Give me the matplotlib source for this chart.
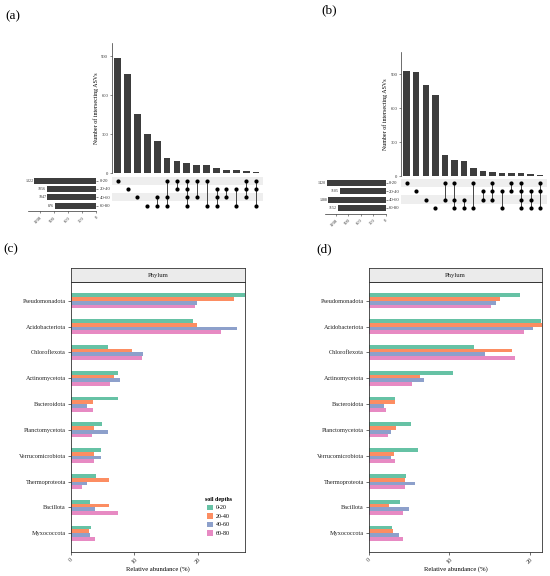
import matplotlib
matplotlib.use('Agg')
import matplotlib.pyplot as plt
from matplotlib.patches import Patch
import numpy as np

plt.rcParams['font.family'] = ['Liberation Serif', 'DejaVu Serif']

# ---------------- data ----------------
depths = ['0-20', '20-40', '40-60', '60-80']
colors = ['#66C2A5', '#FC8D62', '#8DA0CB', '#E78AC3']

a_set_sizes = [1322, 1056, 1047, 876]
a_counts = [884, 766, 458, 303, 247, 116, 95, 82, 67, 62, 39, 28, 23, 15, 13]
a_members = [[0], [1], [2], [3], [2, 3], [0, 2, 3], [0, 1], [0, 1, 2, 3],
             [0, 2], [0, 3], [1, 2, 3], [1, 2], [1, 3], [0, 1, 2], [0, 1, 3]]

b_set_sizes = [1420, 1105, 1388, 1152]
b_counts = [932, 923, 809, 720, 182, 141, 135, 68, 41, 32, 26, 24, 24, 18, 9]
b_members = [[0], [1], [2], [3], [0, 2], [0, 2, 3], [2, 3], [0, 3],
             [1, 2], [0, 1, 2], [1, 3], [0, 1], [0, 1, 2, 3], [1, 2, 3], [0, 1, 3]]

set_ticks = [1200, 900, 600, 300, 0]
a_yticks = [0, 300, 600, 900]
b_yticks = [0, 300, 600, 900]

phyla = ['Pseudomonadota', 'Acidobacteriota', 'Chloroflexota', 'Actinomycetota',
         'Bacteroidota', 'Planctomycetota', 'Verrucomicrobiota', 'Thermoproteota',
         'Bacillota', 'Myxococcota']

c_0_20 = [27.4, 19.2, 5.9, 7.5, 7.5, 4.9, 4.8, 4.0, 3.1, 3.2]
c_20_40 = [25.7, 19.8, 9.7, 6.8, 3.5, 3.6, 3.7, 6.0, 6.0, 2.9]
c_40_60 = [19.8, 26.1, 11.4, 7.7, 2.5, 5.9, 4.7, 2.5, 3.8, 3.1]
c_60_80 = [19.6, 23.6, 11.2, 6.2, 3.5, 3.3, 3.7, 1.8, 7.4, 3.8]

d_0_20 = [18.7, 21.3, 13.0, 10.4, 3.3, 5.2, 6.1, 4.6, 3.9, 2.9]
d_20_40 = [16.3, 21.5, 17.7, 6.4, 3.3, 3.4, 3.1, 4.5, 2.5, 3.0]
d_40_60 = [15.8, 20.4, 14.4, 6.9, 1.9, 2.7, 2.7, 5.7, 5.0, 3.8]
d_60_80 = [15.2, 19.2, 18.1, 5.4, 2.1, 2.4, 3.3, 4.5, 4.2, 4.2]

abund_ticks = [0, 10, 20]

# ---------------- figure ----------------
W, H = 550, 576
fig = plt.figure(figsize=(W / 100, H / 100), dpi=100)
fig.patch.set_facecolor('white')


def add_ax(x0, y0, x1, y1):
    return fig.add_axes([x0 / W, 1 - y1 / H, (x1 - x0) / W, (y1 - y0) / H])


BAR = '#3d3d3d'
EDGE = '#333333'


def upset(main_box, mat_top, mat_l, mat_r, set_l, set_r, row_px,
          counts, members, sizes, ymax, yticks, setmax):
    n = len(counts)
    x = np.arange(n)
    # main intersection bars
    axm = add_ax(*main_box)
    axm.bar(x, counts, width=0.68, color=BAR)
    axm.set_xlim(-0.6, n - 0.3)
    axm.set_ylim(0, ymax)
    for s in ['top', 'right', 'bottom']:
        axm.spines[s].set_visible(False)
    axm.spines['left'].set_color(EDGE)
    axm.spines['left'].set_linewidth(0.5)
    axm.set_xticks([])
    axm.set_yticks(yticks)
    axm.tick_params(axis='y', labelsize=3.3, length=1.5, width=0.4, pad=1,
                    colors='#333333')
    axm.set_ylabel('Number of intersecting ASVs', fontsize=4.3, labelpad=2)

    # matrix
    axd = add_ax(mat_l, mat_top, mat_r, mat_top + 4 * row_px)
    axd.set_xlim(-0.6, n - 0.3)
    axd.set_ylim(3.5, -0.5)
    for r in [0, 2]:
        axd.axhspan(r - 0.5, r + 0.5, color='#EEEEEE', zorder=0, lw=0)
    for i, mem in enumerate(members):
        if len(mem) > 1:
            axd.plot([i, i], [min(mem), max(mem)], color='#444444', lw=0.7,
                     zorder=2)
        axd.scatter([i] * len(mem), mem, s=9, color='black', zorder=3,
                    linewidths=0)
    axd.axis('off')

    # set sizes
    axs = add_ax(set_l, mat_top, set_r, mat_top + 4.2 * row_px)
    axs.barh(np.arange(4), sizes, height=0.7, color=BAR)
    axs.set_xlim(setmax, 0)
    axs.set_ylim(3.7, -0.5)
    for s in ['top', 'right', 'left']:
        axs.spines[s].set_visible(False)
    axs.spines['bottom'].set_color(EDGE)
    axs.spines['bottom'].set_linewidth(0.5)
    axs.yaxis.tick_right()
    axs.set_yticks(np.arange(4))
    axs.set_yticklabels(depths)
    axs.tick_params(axis='y', labelsize=3.3, length=1.5, width=0.4, pad=1,
                    colors='#333333')
    axs.set_xticks(set_ticks)
    axs.set_xticklabels([str(t) for t in set_ticks], rotation=45,
                        ha='right', va='top', rotation_mode='anchor')
    axs.tick_params(axis='x', labelsize=3.3, length=1.5, width=0.4, pad=1.5,
                    colors='#333333')
    for i, v in enumerate(sizes):
        axs.annotate(str(v), (v, i), xytext=(-0.5, 0), textcoords='offset points',
                     ha='right', va='center', fontsize=3.0, color='#333333')


upset((111.7, 43.3, 263, 173.3), 176.5, 111.7, 263, 28, 96, 8.33,
      a_counts, a_members, a_set_sizes, 1000, a_yticks, 1457)
upset((401, 51.7, 546.7, 176), 178.8, 401, 546.7, 325, 385.7, 8.33,
      b_counts, b_members, b_set_sizes, 1100, b_yticks, 1457)


def abund(x0, x1, vals, xmax, legend=False):
    top_strip, top_panel, bottom = 268.3, 282.3, 551.7
    ax = add_ax(x0, top_panel, x1, bottom)
    y = np.arange(len(phyla))
    h = 0.145
    offs = [-1.5 * h, -0.5 * h, 0.5 * h, 1.5 * h]
    for k in range(4):
        ax.barh(y + offs[k], vals[k], height=h, color=colors[k],
                label=depths[k])
    ax.set_ylim(9.72, -0.72)
    ax.set_xlim(0, xmax)
    ax.set_yticks(y)
    ax.set_yticklabels(phyla)
    ax.set_xticks(abund_ticks)
    ax.set_xticklabels([str(t) for t in abund_ticks], rotation=45,
                       ha='center', va='top')
    ax.tick_params(labelsize=4.5, length=2, width=0.5, pad=1.5,
                   colors='#333333')
    ax.tick_params(axis='y', labelcolor='#222222')
    for s in ax.spines.values():
        s.set_color(EDGE)
        s.set_linewidth(0.6)
    ax.set_xlabel('Relative abundance (%)', fontsize=4.8, labelpad=1)

    axs = add_ax(x0, top_strip, x1, top_panel)
    axs.set_facecolor('#EBEBEB')
    axs.set_xticks([])
    axs.set_yticks([])
    for s in axs.spines.values():
        s.set_color(EDGE)
        s.set_linewidth(0.6)
    axs.text(0.5, 0.5, 'Phylum', ha='center', va='center', fontsize=4.8,
             transform=axs.transAxes, color='#1a1a1a')

    if legend:
        handles = [Patch(facecolor=c, edgecolor='none') for c in colors]
        leg = fig.legend(handles, depths, title='soil depths',
                         loc='upper left',
                         bbox_to_anchor=(205 / W, 1 - 497 / H),
                         frameon=False, fontsize=4.3, handlelength=1.0,
                         handleheight=1.05, labelspacing=0.45,
                         handletextpad=0.5, borderpad=0, borderaxespad=0)
        leg.get_title().set_fontsize(4.3)
        leg.get_title().set_fontweight('bold')


abund(70.7, 245, [c_0_20, c_20_40, c_40_60, c_60_80], 27.4, legend=True)
abund(368.7, 542.3, [d_0_20, d_20_40, d_40_60, d_60_80], 21.5)

for lab, xx, yy in [('(a)', 12.5, 16), ('(b)', 329, 10.5),
                    ('(c)', 11, 249), ('(d)', 324, 249)]:
    fig.text(xx / W, 1 - yy / H, lab, ha='center', va='center', fontsize=9.5)

fig.savefig('out.png', dpi=100, facecolor='white')
